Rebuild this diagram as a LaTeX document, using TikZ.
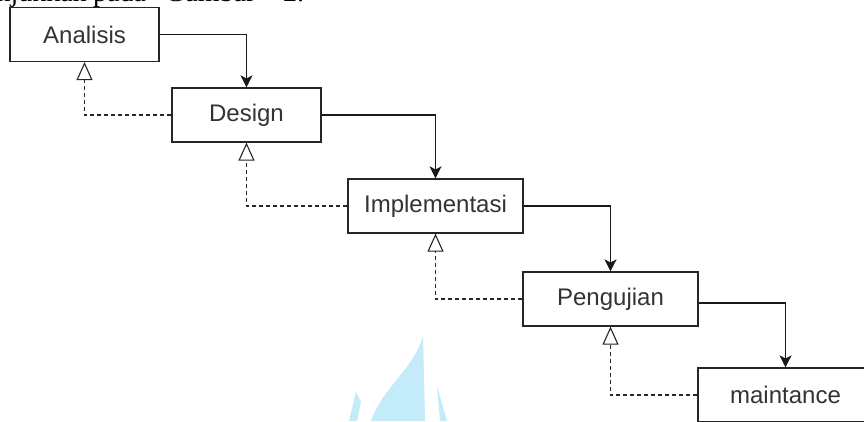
\documentclass[tikz,border=0pt]{standalone}
\usepackage{fontspec}
\setmainfont{Liberation Sans}
\newfontfamily\serifdoc{Liberation Serif}
\usetikzlibrary{arrows.meta}
\definecolor{wmblue}{RGB}{196,235,249}
\tikzset{
  stagebox/.style={draw=black!85, line width=1.2pt, rectangle, inner sep=0pt,
    minimum height=54pt, text=black!80, font=\fontsize{24}{26}\selectfont},
  flowarrow/.style={draw=black!90, line width=1.3pt, -{Stealth[length=12pt,width=12pt,inset=3pt]}},
  backarrow/.style={draw=black!85, line width=1.2pt, dash pattern=on 4pt off 3pt,
    -{Triangle[open,length=18pt,width=16pt,line width=1.1pt]}},
  doctext/.style={inner sep=0pt, font=\serifdoc\fontsize{28}{30}\selectfont, anchor=base west}
}
\begin{document}
\begin{tikzpicture}[x=1pt,y=-1pt]
\useasboundingbox (0,0) rectangle (864,421);
\clip (0,0) rectangle (864,421);
\fill[white] (0,0) rectangle (864,421);
% faint watermark
\fill[wmblue] (371,421) .. controls (384,385) and (412,372) .. (423,336) -- (425,421) -- cycle;
\fill[wmblue] (349,421) -- (356,392) -- (361,402) -- (357,421) -- cycle;
\fill[wmblue] (437,386) -- (447,421) -- (440,421) -- cycle;
% clipped line of document text at the top
\node[doctext, anchor=base east] (t1) at (87,1) {ditunjukkan};
\node[doctext] (t2) at (93,1) {pada};
\node[doctext] (t3) at (165,1) {Gambar};
\node[doctext] (t4) at (283,1) {2.};
% stages
\node[stagebox, minimum width=149pt] (ana) at (84.5,34.5) {Analisis};
\node[stagebox, minimum width=149pt] (des) at (246.5,115) {Design};
\node[stagebox, minimum width=175pt] (imp) at (435.5,206) {Implementasi};
\node[stagebox, minimum width=175pt] (pen) at (610.5,299) {Pengujian};
\node[stagebox, minimum width=175pt] (mai) at (785.5,395) {maintance};
% forward flow
\draw[flowarrow] (ana.east) -| (des.north);
\draw[flowarrow] (des.east) -| (imp.north);
\draw[flowarrow] (imp.east) -| (pen.north);
\draw[flowarrow] ([yshift=-4pt]pen.east) -| (mai.north);
% feedback
\draw[backarrow] (des.west) -| (ana.south);
\draw[backarrow] (imp.west) -| (des.south);
\draw[backarrow] (pen.west) -| (imp.south);
\draw[backarrow] (mai.west) -| (pen.south);
\end{tikzpicture}
\end{document}
